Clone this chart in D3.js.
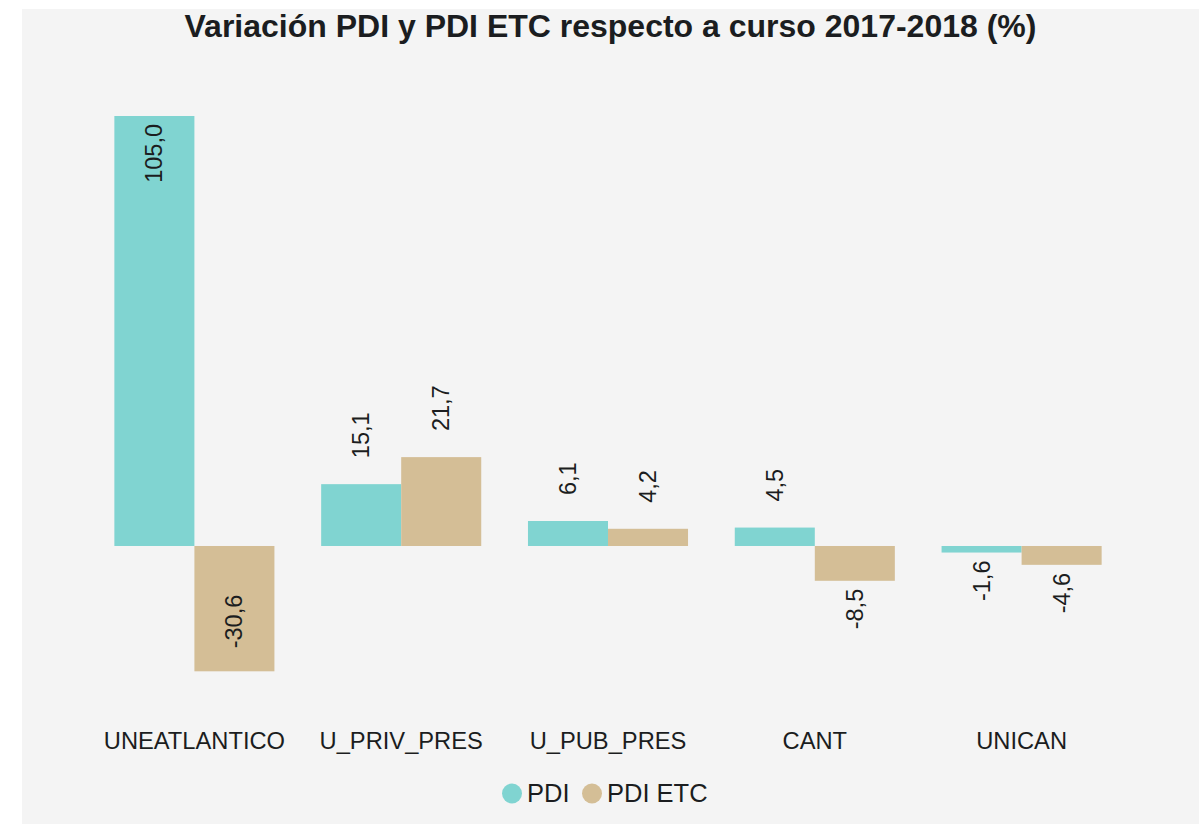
<!DOCTYPE html>
<html>
  <head>
    <title>Variacion PDI</title>
    <script src="https://d3js.org/d3.v7.min.js"></script>
    <style>
      body { margin: 0; background: #fff; }
      svg { display: block; }
    </style>
  </head>
  <body>
    <svg width="1199" height="824"></svg>
    <script>
      // data
      var categories = ["UNEATLANTICO", "U_PRIV_PRES", "U_PUB_PRES", "CANT", "UNICAN"];
      var seriesNames = ["PDI", "PDI ETC"];
      var pdi = [105.0, 15.1, 6.1, 4.5, -1.6];
      var pdiEtc = [-30.6, 21.7, 4.2, -8.5, -4.6];
      var colors = ["#80d4d1", "#d4be96"];

      var svg = d3.select("svg");
      var font = "'Liberation Sans', Arial, sans-serif";
      var textColor = "#1b1d20";

      // background panel
      svg.append("rect").attr("x", 22).attr("y", 9).attr("width", 1177).attr("height", 815).attr("fill", "#f4f4f4");

      svg.append("text")
        .attr("x", 610.5).attr("y", 37)
        .attr("text-anchor", "middle")
        .attr("font-family", font).attr("font-size", 32).attr("font-weight", "bold")
        .attr("fill", textColor)
        .text("Variación PDI y PDI ETC respecto a curso 2017-2018 (%)");

      // scales
      var x0 = d3.scaleBand().domain(categories).range([91, 1125]).paddingInner(0.226).paddingOuter(0.113);
      var x1 = d3.scaleBand().domain(seriesNames).range([0, x0.bandwidth()]);
      var y = d3.scaleLinear().domain([-30.6, 105]).range([671.3, 116]);

      var rows = categories.map(function(c, i) {
        return { cat: c, vals: [{ s: "PDI", v: pdi[i], c: colors[0] }, { s: "PDI ETC", v: pdiEtc[i], c: colors[1] }] };
      });

      var groups = svg.selectAll(".grp").data(rows).enter().append("g")
        .attr("transform", function(d) { return "translate(" + x0(d.cat) + ",0)"; });

      groups.selectAll("rect").data(function(d) { return d.vals; }).enter().append("rect")
        .attr("x", function(d) { return x1(d.s); })
        .attr("width", x1.bandwidth())
        .attr("y", function(d) { return y(Math.max(0, d.v)); })
        .attr("height", function(d) { return Math.abs(y(d.v) - y(0)); })
        .attr("fill", function(d) { return d.c; });

      // value labels, rotated
      groups.selectAll(".lbl").data(function(d) { return d.vals; }).enter().append("text")
        .attr("transform", function(d) {
          var cx = x1(d.s) + x1.bandwidth() / 2;
          var end = y(d.v);
          var inside = Math.abs(d.v) > 25;
          var ty;
          if (d.v >= 0) ty = inside ? end + 8 : end - 26;
          else ty = inside ? end - 23 : end + 8;
          return "translate(" + cx + "," + ty + ") rotate(-90)";
        })
        .attr("text-anchor", function(d) {
          var inside = Math.abs(d.v) > 25;
          if (d.v >= 0) return inside ? "end" : "start";
          return inside ? "start" : "end";
        })
        .attr("dominant-baseline", "central")
        .attr("font-family", font).attr("font-size", 23.5)
        .attr("fill", textColor)
        .text(function(d) { return d.v.toFixed(1).replace(".", ","); });

      // category labels
      var xAxis = d3.axisBottom(x0).tickSize(0).tickPadding(0);
      var ax = svg.append("g").attr("transform", "translate(0,731)").call(xAxis);
      ax.select(".domain").remove();
      ax.selectAll("text")
        .attr("dy", null).attr("y", 18)
        .attr("font-family", font).attr("font-size", 23.7)
        .attr("fill", textColor);

      // legend
      var legendX = [512, 592];
      var legend = svg.selectAll(".leg").data(seriesNames).enter().append("g")
        .attr("transform", function(d, i) { return "translate(" + legendX[i] + ",793.5)"; });
      legend.append("circle").attr("r", 10).attr("fill", function(d, i) { return colors[i]; });
      legend.append("text").attr("x", 15).attr("y", 8)
        .attr("font-family", font).attr("font-size", 25.5)
        .attr("fill", textColor)
        .text(function(d) { return d; });
    </script>
  </body>
</html>
